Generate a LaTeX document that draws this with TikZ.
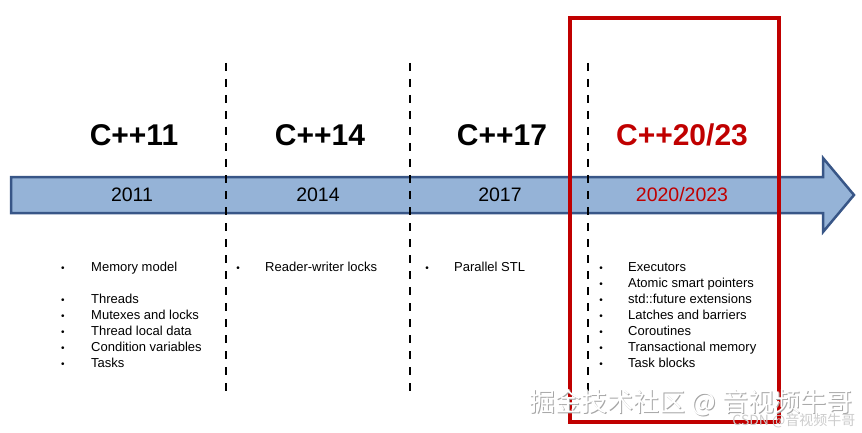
\documentclass[tikz,border=0pt]{standalone}
\usepackage{fontspec}
\setmainfont{Liberation Sans}
\newfontfamily\cjk{Noto Sans CJK SC}
\definecolor{arrowfill}{RGB}{149,179,215}
\definecolor{arrowline}{RGB}{56,86,135}
\definecolor{boxred}{RGB}{192,0,0}
\tikzset{title/.style={font=\fontsize{30}{32}\selectfont\bfseries},
 year/.style={font=\fontsize{19.5}{21}\selectfont},
 item/.style={font=\fontsize{13}{15}\selectfont,anchor=base west,inner sep=0pt},
 dot/.style={font=\fontsize{10}{12}\selectfont,anchor=base,inner sep=0pt},
 sep/.style={line width=2.6pt,dash pattern=on 8pt off 8pt}}

\begin{document}
\begin{tikzpicture}[x=1pt,y=-1pt]
 \useasboundingbox (0,0) rectangle (862,433);
 % timeline arrow
 \draw[line width=2.5pt,draw=arrowline,fill=arrowfill,line join=miter]
  (11,177) -- (823,177) -- (823,158) -- (854,195) -- (823,232) -- (823,213) -- (11,213) -- cycle;
 \foreach \i/\x/\label/\year in {1/134/C++11/2011,2/320/C++14/2014,3/502/C++17/2017}{
  \node[title] (std\i) at (\x,135) {\label};
  \node[year] (year\i) at (\x-2,195) {\year};
 }
 \node[title,text=boxred] (std4) at (682,135) {C++20/23};
 \node[year,text=boxred] (year4) at (682,195) {2020/2023};
 % separators
 \foreach \i/\x in {1/226,2/410,3/588}{
  \coordinate (top\i) at (\x,63);
  \coordinate (bot\i) at (\x,396);
  \draw[sep] (top\i) -- (bot\i);
 }
 % features
 \foreach \i/\y/\text in {1/266/Memory model,2/298/Threads,3/314/Mutexes and locks,
  4/330/Thread local data,5/346/Condition variables,6/362/Tasks}{
  \node[dot] (da\i) at (63,\y+5) {\textbullet};
  \node[item] (fa\i) at (91,\y+5) {\text};
 }
 \node[dot] (db1) at (238,271) {\textbullet};
 \node[item] (fb1) at (265,271) {Reader-writer locks};
 \node[dot] (dc1) at (427,271) {\textbullet};
 \node[item] (fc1) at (454,271) {Parallel STL};
 \foreach \i/\y/\text in {1/266/Executors,2/282/Atomic smart pointers,3/298/std::future extensions,
  4/314/Latches and barriers,5/330/Coroutines,6/346/Transactional memory,7/362/Task blocks}{
  \node[dot] (dd\i) at (601,\y+5) {\textbullet};
  \node[item] (fd\i) at (628,\y+5) {\text};
 }
 % highlight
 \draw[boxred,line width=3.5pt] (570,18) rectangle (779,422);
 % watermarks
 \node[font=\cjk\fontsize{26}{28}\selectfont,text=gray!70] (mark) at (692,404) {掘金技术社区 @ 音视频牛哥};
 \node[font=\cjk\fontsize{26}{28}\selectfont,text=white] (markfg) at (691,403) {掘金技术社区 @ 音视频牛哥};
 \node[font=\cjk\fontsize{14}{15}\selectfont,text=gray!40,anchor=east] (csdn) at (859,421) {CSDN @音视频牛哥};
\end{tikzpicture}
\end{document}
